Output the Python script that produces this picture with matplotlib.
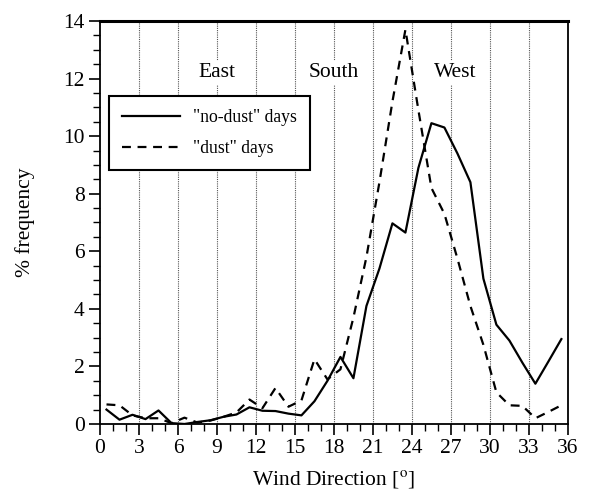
import numpy as np
import matplotlib
matplotlib.use("Agg")
import matplotlib.pyplot as plt
from matplotlib.ticker import MultipleLocator

plt.rcParams['font.family'] = ['Liberation Serif', 'DejaVu Serif']
plt.rcParams['mathtext.fontset'] = 'stix'

# Wind direction bins (tens of degrees)
wind_dir = np.arange(36) + 0.5

no_dust = [0.50, 0.15, 0.32, 0.17, 0.47, 0.03, 0.00, 0.07, 0.13, 0.25,
           0.33, 0.58, 0.46, 0.45, 0.36, 0.30, 0.79, 1.50, 2.33, 1.59,
           4.10, 5.40, 6.97, 6.65, 8.90, 10.45, 10.30, 9.40, 8.40, 5.05,
           3.45, 2.90, 2.13, 1.40, 2.17, 2.95]

dust = [0.68, 0.65, 0.30, 0.20, 0.20, 0.03, 0.22, 0.05, 0.12, 0.25,
        0.40, 0.85, 0.55, 1.25, 0.60, 0.82, 2.25, 1.55, 1.90, 3.70,
        5.80, 8.40, 11.20, 13.70, 10.90, 8.20, 7.30, 5.75, 4.10, 2.75,
        1.10, 0.65, 0.63, 0.20, 0.42, 0.65]

region_labels = ["East", "South", "West"]
region_x = [9, 18, 27.3]
region_y = 12.2

x_ticks = list(range(0, 37, 3))
y_ticks = list(range(0, 15, 2))

fig = plt.figure(figsize=(5.9, 5.0), dpi=100)
ax = fig.add_axes([0.1695, 0.152, 0.793, 0.806])

for xv in x_ticks[1:-1]:
    ax.axvline(xv, color='#555555', linestyle=(0, (1, 1)), linewidth=0.8, zorder=1)

ax.plot(wind_dir, no_dust, color='black', linewidth=1.6, linestyle='-',
        label='"no-dust" days', zorder=3)
ax.plot(wind_dir, dust, color='black', linewidth=1.6, linestyle=(0, (4, 3)),
        label='"dust" days', zorder=3)

for lab, xv in zip(region_labels, region_x):
    ax.text(xv, region_y, lab, ha='center', va='center', fontsize=15.5,
            bbox=dict(facecolor='white', edgecolor='none', pad=2), zorder=2)

ax.set_xlim(0, 36)
ax.set_ylim(0, 14)
ax.set_xticks(x_ticks)
ax.set_yticks(y_ticks)
ax.xaxis.set_minor_locator(MultipleLocator(1))
ax.yaxis.set_minor_locator(MultipleLocator(0.5))
ax.tick_params(which='major', direction='out', length=8, width=1.2, labelsize=15.5)
ax.tick_params(which='minor', direction='out', length=5, width=1.0)
ax.tick_params(axis='x', pad=3)
ax.tick_params(axis='y', pad=3)

for side in ['left', 'bottom', 'right']:
    ax.spines[side].set_linewidth(1.3)
ax.spines['top'].set_linewidth(2.2)

ax.set_xlabel('Wind Direction [$^{\\mathrm{o}}$]', fontsize=15.5, labelpad=7)
ax.set_ylabel('% frequency', fontsize=15.5, labelpad=20)

leg = ax.legend(loc='upper left', bbox_to_anchor=(0.019, 0.815), fontsize=12.7,
                frameon=True, fancybox=False, edgecolor='black', framealpha=1,
                handlelength=3.3, borderpad=0.75, labelspacing=0.8,
                handletextpad=0.7, borderaxespad=0)
leg.get_frame().set_linewidth(1.5)
leg.set_zorder(5)

fig.savefig('out.png', dpi=100)
